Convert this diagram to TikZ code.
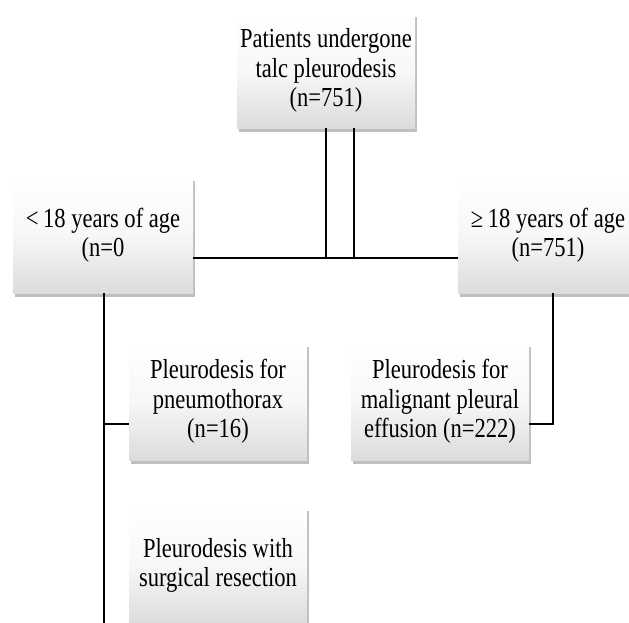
\documentclass[tikz,border=0pt]{standalone}
\usepackage{fontspec}
\setmainfont[FakeStretch=0.82]{Liberation Serif}
\usetikzlibrary{shadows}
\begin{document}
\begin{tikzpicture}[x=1pt,y=-1pt,
  box/.style={rectangle, inner sep=0pt, top color=white, bottom color=black!14,
    middle color=white!97!black,
    drop shadow={opacity=0.5, shadow xshift=2pt, shadow yshift=-3.5pt},
    align=center, font=\fontsize{27.5}{29.5}\selectfont},
  conn/.style={draw=black, line width=1.8pt}]
\useasboundingbox (0,0) rectangle (629,622);
\clip (0,0) rectangle (629,622);
\fill[white] (0,0) rectangle (629,622);
% boxes
\node[box, minimum width=178pt, minimum height=115pt] (top) at (326,70.5)
  {Patients undergone\\talc pleurodesis\\(n=751)};
\node[box, minimum width=180pt, minimum height=116pt] (lt) at (103,235)
  {<\,18 years of age\\(n=0};
\node[box, minimum width=180pt, minimum height=116pt] (ge) at (548,235)
  {≥\,18 years of age\\(n=751)};
\node[box, minimum width=178pt, minimum height=117pt] (pneu) at (218,401.5)
  {Pleurodesis for\\pneumothorax\\(n=16)};
\node[box, minimum width=178pt, minimum height=117pt] (mpe) at (440,401.5)
  {Pleurodesis for\\malignant pleural\\effusion (n=222)};
\node[box, minimum width=178pt, minimum height=117pt] (surg) at (218,565.5)
  {Pleurodesis with\\surgical resection};
% connector points
\coordinate (t1) at (top.south -| 326,0);
\coordinate (t2) at (top.south -| 354,0);
\coordinate (h1) at (326,258);
\coordinate (h2) at (354,258);
\coordinate (ltr) at (lt.east |- 0,258);
\coordinate (gel) at (ge.west |- 0,258);
\coordinate (lb) at (lt.south -| 104,0);
\coordinate (lbr) at (104,424);
\coordinate (lend) at (104,630);
\coordinate (gb) at (ge.south -| 553,0);
\coordinate (gbr) at (553,424);
% connectors
\draw[conn] (top.south -| t1) -- (h1);
\draw[conn] (top.south -| t2) -- (h2);
\draw[conn] (lt.east |- ltr) -- (ge.west |- gel);
\draw[conn] (lt.south -| lb) -- (lend);
\draw[conn] (lbr) -- (pneu.west |- lbr);
\draw[conn] (ge.south -| gb) -- (gbr) -- (mpe.east |- gbr);
\end{tikzpicture}
\end{document}
